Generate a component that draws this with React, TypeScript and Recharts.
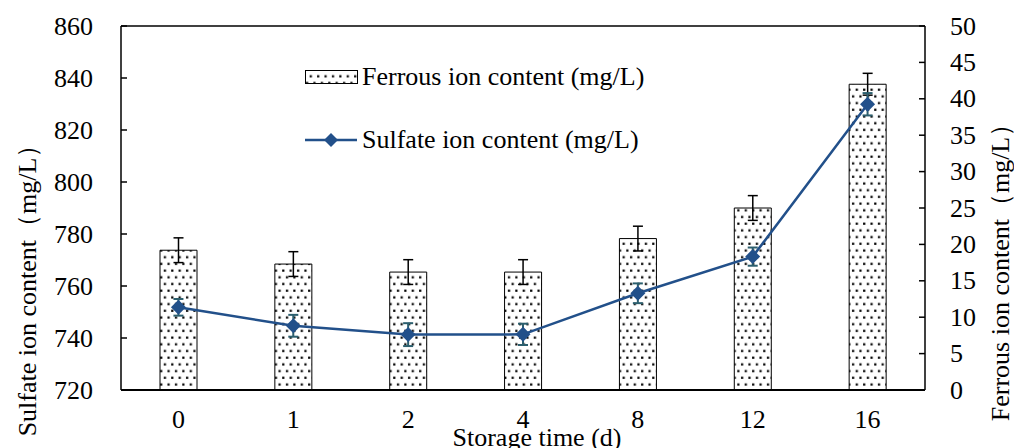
import { Bar, ComposedChart, ErrorBar, Line, ReferenceLine, XAxis, YAxis } from "recharts";

const days = ["0", "1", "2", "4", "8", "12", "16"];
const ferrous = [19.2, 17.3, 16.2, 16.2, 20.8, 25.0, 42.0];
const ferrousErr = [1.7, 1.7, 1.7, 1.7, 1.7, 1.7, 1.5];
const sulfate = [751.8, 744.7, 741.3, 741.4, 757.2, 771.3, 829.9];
const sulfateErr = [3.2, 4.2, 4.4, 4.1, 3.8, 3.5, 4.3];
const leftTicks = [720, 740, 760, 780, 800, 820, 840, 860];
const rightTicks = [0, 5, 10, 15, 20, 25, 30, 35, 40, 45, 50];

const data = days.map((day, i) => ({
  day,
  ferrous: ferrous[i],
  ferrousErr: ferrousErr[i],
  sulfate: sulfate[i],
  sulfateErr: sulfateErr[i],
}));

const font = "'Liberation Serif', 'Times New Roman', serif";
const lineColor = "#22508a";
const errColor = "#2c5f6e";
const W = 1014;
const H = 448;
const plotLeft = 121;
const plotRight = 925;
const plotTop = 26;
const plotBottom = 390;
const txt = { fontFamily: font, fontSize: 26 };

function LeftTick(props: any) {
  const { y, payload } = props;
  return (
    <g>
      <line x1={plotLeft} x2={plotLeft + 6} y1={y} y2={y} stroke="#000" strokeWidth={1.5} />
      <text x={93} y={y} textAnchor="end" dominantBaseline="central" style={txt} fill="#000">
        {payload.value}
      </text>
    </g>
  );
}

function RightTick(props: any) {
  const { y, payload } = props;
  return (
    <g>
      <line x1={plotRight - 6} x2={plotRight} y1={y} y2={y} stroke="#000" strokeWidth={1.5} />
      <text x={950} y={y} textAnchor="start" dominantBaseline="central" style={txt} fill="#000">
        {payload.value}
      </text>
    </g>
  );
}

function BottomTick(props: any) {
  const { x, payload } = props;
  return (
    <text x={x} y={419} textAnchor="middle" dominantBaseline="central" style={txt} fill="#000">
      {payload.value}
    </text>
  );
}

function XTitle() {
  return (
    <text x={537} y={437} textAnchor="middle" dominantBaseline="central" style={txt} fill="#000">
      Storage time (d)
    </text>
  );
}

function LeftTitle() {
  return (
    <text
      x={27}
      y={284}
      transform="rotate(-90 27 284)"
      textAnchor="middle"
      dominantBaseline="central"
      style={txt}
      fill="#000"
    >
      Sulfate ion content（mg/L）
    </text>
  );
}

function RightTitle() {
  return (
    <text
      x={1000}
      y={266}
      transform="rotate(-90 1000 266)"
      textAnchor="middle"
      dominantBaseline="central"
      style={txt}
      fill="#000"
    >
      Ferrous ion content（mg/L）
    </text>
  );
}

function Diamond(props: any) {
  const { cx, cy } = props;
  if (cx == null || cy == null) return null;
  const r = 7.5;
  return <path d={`M${cx},${cy - r} L${cx + r},${cy} L${cx},${cy + r} L${cx - r},${cy} Z`} fill={lineColor} />;
}

function LegendBox() {
  const textStyle = { fontSize: 26, fontFamily: font, color: "#000", lineHeight: "30px", whiteSpace: "nowrap" as const };
  return (
    <div style={{ position: "absolute", left: 305, top: 62, width: 420, height: 100 }}>
      <div style={{ position: "absolute", left: 0, top: 0, display: "flex", alignItems: "center" }}>
        <svg width={57} height={20}>
          <rect x={0.5} y={3.5} width={52} height={13} fill="url(#dots)" stroke="#000" strokeWidth={1} />
        </svg>
        <span style={textStyle}>Ferrous ion content (mg/L)</span>
      </div>
      <div style={{ position: "absolute", left: 0, top: 63, display: "flex", alignItems: "center" }}>
        <svg width={57} height={20}>
          <line x1={0} x2={52} y1={10} y2={10} stroke={lineColor} strokeWidth={2.5} />
          <path d="M26,3 L33,10 L26,17 L19,10 Z" fill={lineColor} />
        </svg>
        <span style={textStyle}>Sulfate ion content (mg/L)</span>
      </div>
    </div>
  );
}

export default function App() {
  return (
    <div style={{ position: "absolute", left: 0, top: 0, width: W, height: H, background: "#fff", fontFamily: font }}>
      <svg width={0} height={0} style={{ position: "absolute" }}>
        <defs>
          <pattern id="dots" width={7.4} height={13.4} patternUnits="userSpaceOnUse">
            <rect width={7.4} height={13.4} fill="#fff" />
            <rect x={1} y={1.5} width={2.2} height={2.2} fill="#000" />
            <rect x={4.7} y={8.2} width={2.2} height={2.2} fill="#000" />
          </pattern>
        </defs>
      </svg>
      <ComposedChart
        width={W}
        height={H}
        data={data}
        margin={{ top: plotTop, right: 0, left: 0, bottom: 0 }}
        barCategoryGap={0}
      >
        <XAxis
          dataKey="day"
          height={H - plotBottom}
          axisLine={{ stroke: "#000", strokeWidth: 2 }}
          tickLine={false}
          tick={<BottomTick />}
          interval={0}
          label={<XTitle />}
        />
        <YAxis
          yAxisId="left"
          orientation="left"
          width={plotLeft}
          domain={[720, 860]}
          ticks={leftTicks}
          interval={0}
          axisLine={{ stroke: "#000", strokeWidth: 1.5 }}
          tickLine={false}
          tick={<LeftTick />}
          label={<LeftTitle />}
        />
        <YAxis
          yAxisId="right"
          orientation="right"
          width={W - plotRight}
          domain={[0, 50]}
          ticks={rightTicks}
          interval={0}
          axisLine={{ stroke: "#000", strokeWidth: 1.5 }}
          tickLine={false}
          tick={<RightTick />}
          label={<RightTitle />}
        />
        <ReferenceLine yAxisId="left" y={860} stroke="#000" strokeWidth={1.5} />
        <Bar
          yAxisId="right"
          dataKey="ferrous"
          barSize={37}
          fill="url(#dots)"
          stroke="#000"
          strokeWidth={1}
          isAnimationActive={false}
        >
          <ErrorBar dataKey="ferrousErr" width={5} stroke="#000" strokeWidth={1.5} direction="y" />
        </Bar>
        <Line
          yAxisId="left"
          dataKey="sulfate"
          type="linear"
          stroke={lineColor}
          strokeWidth={2.5}
          dot={<Diamond />}
          activeDot={false}
          isAnimationActive={false}
        >
          <ErrorBar dataKey="sulfateErr" width={5} stroke={errColor} strokeWidth={2} direction="y" />
        </Line>
      </ComposedChart>
      <LegendBox />
    </div>
  );
}
